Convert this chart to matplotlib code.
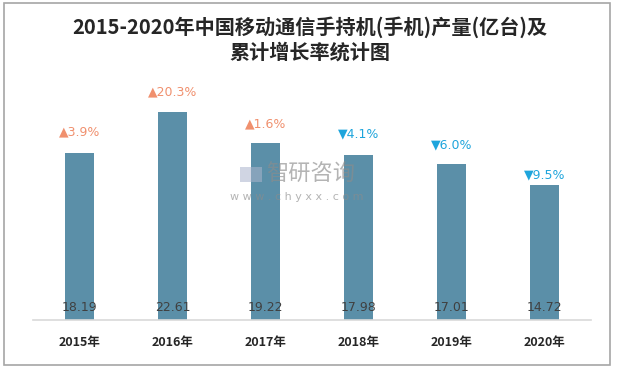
import matplotlib.pyplot as plt
from matplotlib.patches import Rectangle

plt.rcParams['font.family'] = ['Noto Sans CJK SC', 'DejaVu Sans']

years = ['2015年', '2016年', '2017年', '2018年', '2019年', '2020年']
output = [18.19, 22.61, 19.22, 17.98, 17.01, 14.72]
growth = [3.9, 20.3, 1.6, -4.1, -6.0, -9.5]

# label offset above bar top, in points
label_pad = [10, 10, 9, 10, 9, 2]

W, H = 619, 370
fig = plt.figure(figsize=(W / 100, H / 100), dpi=100)
fig.patches.append(Rectangle((4 / W, 5 / H), 606 / W, 362 / H, transform=fig.transFigure,
                             fill=False, edgecolor='#a6a6a6', lw=1.2))

# axes: x from 33 to 591 px, baseline at y=320 px
ax = fig.add_axes([33 / W, (H - 320) / H, 558 / W, 276 / H])
ax.set_xlim(-0.5, 5.5)
ax.set_ylim(0, 30)
x = range(len(years))
ax.bar(x, output, width=0.31, color='#5b8fa8')
for s in ['top', 'right', 'left']:
    ax.spines[s].set_visible(False)
ax.spines['bottom'].set_color('#d9d9d9')
ax.spines['bottom'].set_linewidth(1.2)
ax.set_yticks([])
ax.set_xticks(list(x))
ax.set_xticklabels(years, fontsize=9, fontweight='bold', color='#262626')
ax.tick_params(axis='x', length=0, pad=11.5)

for i, v in enumerate(output):
    ax.text(i, 1.4, f'{v:.2f}', ha='center', va='center', fontsize=9, color='#404040',
            family=['DejaVu Sans'])

for i, (v, g) in enumerate(zip(output, growth)):
    if g >= 0:
        lab, col = f'▲{g:.1f}%', '#f0906e'
    else:
        lab, col = f'▼{abs(g):.1f}%', '#1ea5dc'
    ax.annotate(lab, (i, v), xytext=(0, label_pad[i]), textcoords='offset points',
                ha='center', va='bottom', fontsize=9, color=col, family=['DejaVu Sans'])

fig.text(310 / W, 1 - 27 / H, '2015-2020年中国移动通信手持机(手机)产量(亿台)及', ha='center',
         va='center', fontsize=14.5, fontweight='bold', color='#262626')
fig.text(310 / W, 1 - 52 / H, '累计增长率统计图', ha='center', va='center',
         fontsize=14.5, fontweight='bold', color='#262626')

# watermark
fig.patches.append(Rectangle((240 / W, 1 - 182 / H), 22 / W, 15 / H, transform=fig.transFigure,
                             facecolor='#aab4cc', alpha=0.55, edgecolor='none'))
fig.text(311 / W, 1 - 174 / H, '智研咨询', ha='center', va='center', fontsize=16,
         color='#8c8c8c', alpha=0.65)
fig.text(297 / W, 1 - 197 / H, 'w w w . c h y x x . c o m', ha='center', va='center', fontsize=8,
         color='#8c8c8c', alpha=0.65, family=['DejaVu Sans'])

fig.savefig('out.png', dpi=100)
